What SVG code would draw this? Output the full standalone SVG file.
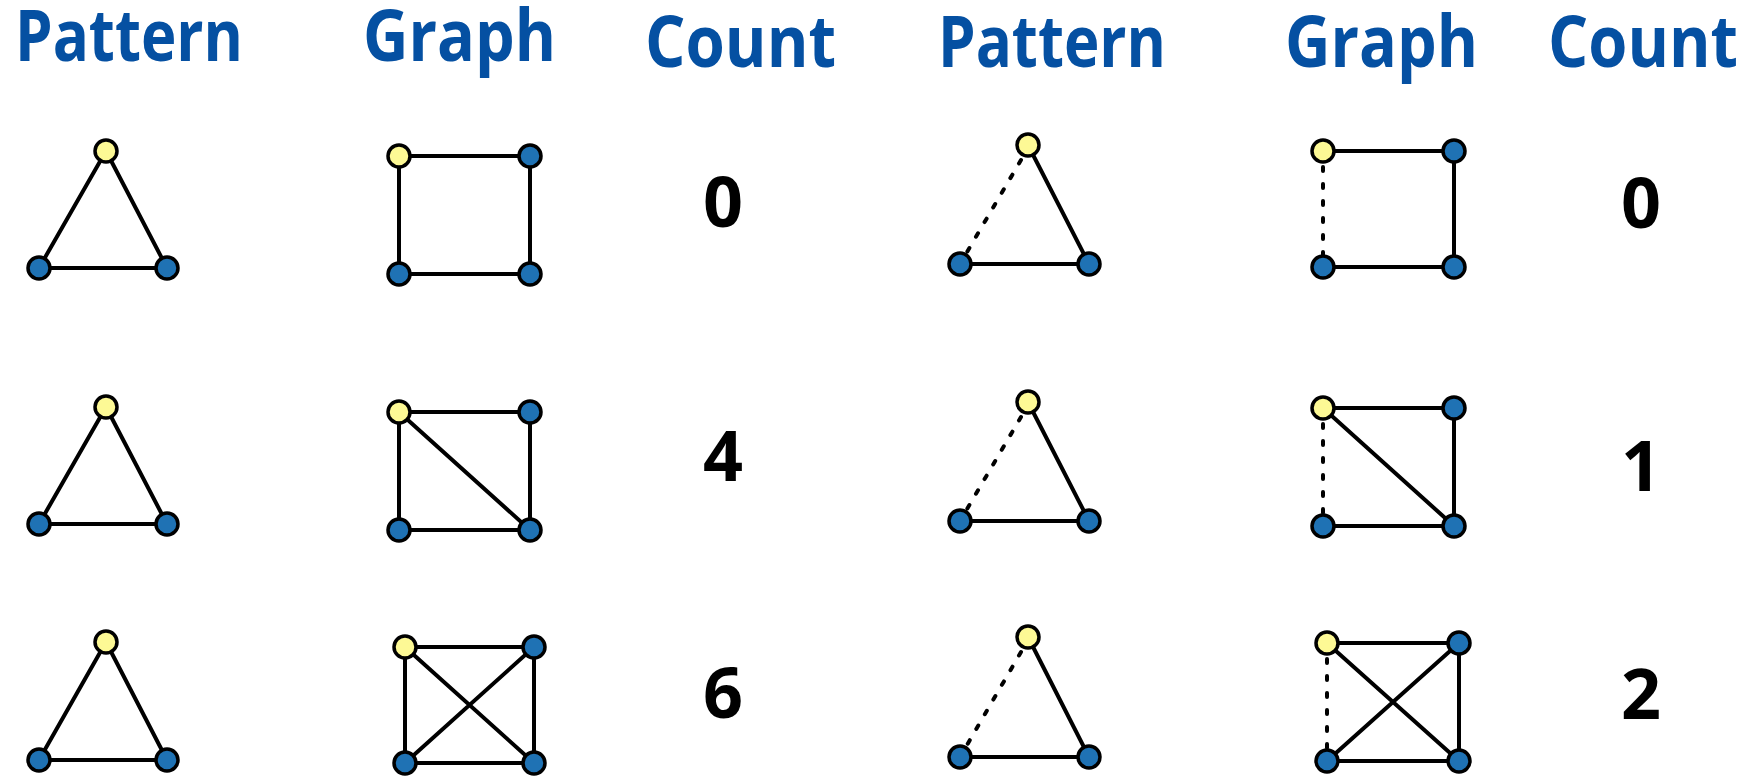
<svg xmlns="http://www.w3.org/2000/svg" width="1753" height="776" viewBox="0 0 1753 776">
<style>
.hdr{font-family:"Open Sans","Noto Sans","Liberation Sans",sans-serif;font-weight:700;font-size:71px;fill:#0550a2}
.cnt{font-family:"Open Sans","Noto Sans","Liberation Sans",sans-serif;font-weight:700;font-size:70px;fill:#000;text-anchor:middle}
.e{stroke:#000;stroke-width:4;fill:none;stroke-linecap:round}
.d{stroke:#000;stroke-width:4;fill:none;stroke-linecap:round;stroke-dasharray:4 13}
.y{fill:#fdf995;stroke:#000;stroke-width:3.5}
.b{fill:#1f72b4;stroke:#000;stroke-width:3.5}
</style>
<rect width="1753" height="776" fill="#fff"/>
<g id="headers">
<text class="hdr" x="15" y="61" textLength="228" lengthAdjust="spacingAndGlyphs">Pattern</text>
<text class="hdr" x="363" y="61" textLength="193" lengthAdjust="spacingAndGlyphs">Graph</text>
<text class="hdr" x="645" y="67" textLength="191" lengthAdjust="spacingAndGlyphs">Count</text>
<text class="hdr" x="938" y="67" textLength="228" lengthAdjust="spacingAndGlyphs">Pattern</text>
<text class="hdr" x="1285" y="67" textLength="193" lengthAdjust="spacingAndGlyphs">Graph</text>
<text class="hdr" x="1548" y="67" textLength="190" lengthAdjust="spacingAndGlyphs">Count</text>
</g>
<g id="counts">
<text class="cnt" x="723" y="227">0</text>
<text class="cnt" x="723" y="481">4</text>
<text class="cnt" x="723" y="718">6</text>
<text class="cnt" x="1641" y="228">0</text>
<text class="cnt" x="1641" y="491">1</text>
<text class="cnt" x="1641" y="719">2</text>
</g>
<g id="connectors">
<path class="e" d="M106 151L39 268L167 268Z"/>
<path class="e" d="M399 156H530V274H399Z"/>
<path class="e" d="M106 407L39 524L167 524Z"/>
<path class="e" d="M399 412H530V530H399Z M399 412L530 530"/>
<path class="e" d="M106 642L39 760L167 760Z"/>
<path class="e" d="M405 647H534V763H405Z M405 647L534 763 M534 647L405 763"/>
<path class="e" d="M1028 145L1089 264L960 264"/>
<path class="d" d="M1021 160L960 264"/>
<path class="e" d="M1323 151H1454V267H1323"/>
<path class="d" d="M1323 167V267"/>
<path class="e" d="M1028 402L1089 521L960 521"/>
<path class="d" d="M1021 417L960 521"/>
<path class="e" d="M1323 408H1454V526H1323 M1323 408L1454 526"/>
<path class="d" d="M1323 424V526"/>
<path class="e" d="M1028 637L1089 757L960 757"/>
<path class="d" d="M1021 652L960 757"/>
<path class="e" d="M1327 643H1459V761H1327 M1327 643L1459 761 M1459 643L1327 761"/>
<path class="d" d="M1327 659V761"/>
</g>
<g id="nodes">
<g id="p1"><circle class="y" cx="106" cy="151" r="11"/><circle class="b" cx="39" cy="268" r="11"/><circle class="b" cx="167" cy="268" r="11"/></g>
<g id="g1"><circle class="y" cx="399" cy="156" r="11"/><circle class="b" cx="530" cy="156" r="11"/><circle class="b" cx="399" cy="274" r="11"/><circle class="b" cx="530" cy="274" r="11"/></g>
<g id="p2"><circle class="y" cx="106" cy="407" r="11"/><circle class="b" cx="39" cy="524" r="11"/><circle class="b" cx="167" cy="524" r="11"/></g>
<g id="g2"><circle class="y" cx="399" cy="412" r="11"/><circle class="b" cx="530" cy="412" r="11"/><circle class="b" cx="399" cy="530" r="11"/><circle class="b" cx="530" cy="530" r="11"/></g>
<g id="p3"><circle class="y" cx="106" cy="642" r="11"/><circle class="b" cx="39" cy="760" r="11"/><circle class="b" cx="167" cy="760" r="11"/></g>
<g id="g3"><circle class="y" cx="405" cy="647" r="11"/><circle class="b" cx="534" cy="647" r="11"/><circle class="b" cx="405" cy="763" r="11"/><circle class="b" cx="534" cy="763" r="11"/></g>
<g id="p4"><circle class="y" cx="1028" cy="145" r="11"/><circle class="b" cx="960" cy="264" r="11"/><circle class="b" cx="1089" cy="264" r="11"/></g>
<g id="g4"><circle class="y" cx="1323" cy="151" r="11"/><circle class="b" cx="1454" cy="151" r="11"/><circle class="b" cx="1323" cy="267" r="11"/><circle class="b" cx="1454" cy="267" r="11"/></g>
<g id="p5"><circle class="y" cx="1028" cy="402" r="11"/><circle class="b" cx="960" cy="521" r="11"/><circle class="b" cx="1089" cy="521" r="11"/></g>
<g id="g5"><circle class="y" cx="1323" cy="408" r="11"/><circle class="b" cx="1454" cy="408" r="11"/><circle class="b" cx="1323" cy="526" r="11"/><circle class="b" cx="1454" cy="526" r="11"/></g>
<g id="p6"><circle class="y" cx="1028" cy="637" r="11"/><circle class="b" cx="960" cy="757" r="11"/><circle class="b" cx="1089" cy="757" r="11"/></g>
<g id="g6"><circle class="y" cx="1327" cy="643" r="11"/><circle class="b" cx="1459" cy="643" r="11"/><circle class="b" cx="1327" cy="761" r="11"/><circle class="b" cx="1459" cy="761" r="11"/></g>
</g>
</svg>
